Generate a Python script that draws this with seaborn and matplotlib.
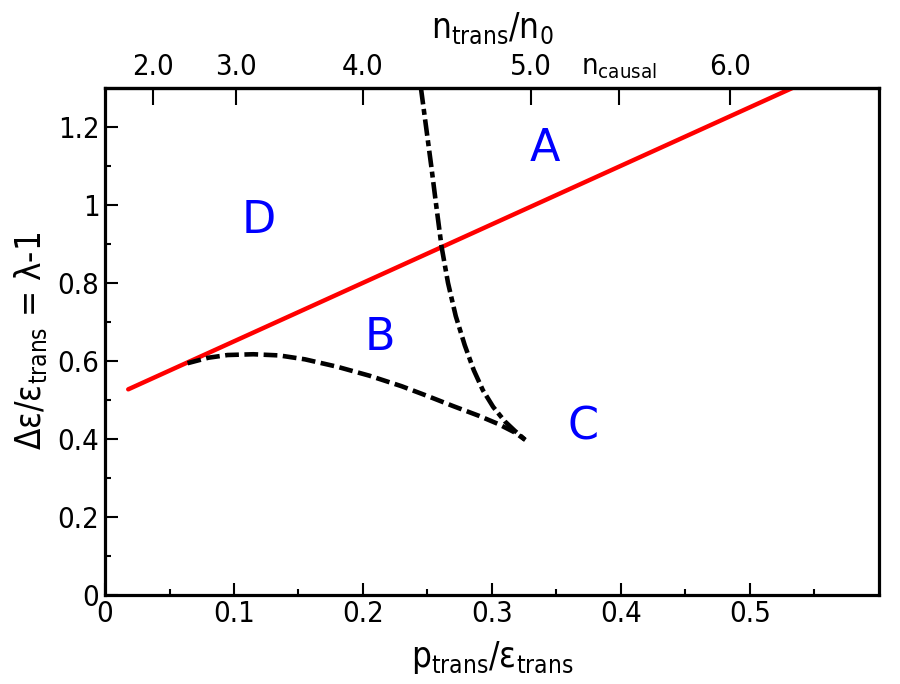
import matplotlib
matplotlib.use("Agg")
import matplotlib.pyplot as plt
import seaborn as sns
import pandas as pd

# ---- data ----
red_p = [0.018, 0.533]
red_y = [0.527, 1.30]

bc_p = [0.064, 0.080, 0.095, 0.115, 0.135, 0.155, 0.180, 0.205, 0.230, 0.250, 0.270, 0.290, 0.305, 0.318, 0.326]
bc_y = [0.594, 0.608, 0.615, 0.617, 0.614, 0.604, 0.585, 0.562, 0.535, 0.510, 0.484, 0.459, 0.438, 0.416, 0.397]

ac_p = [0.245, 0.249, 0.253, 0.257, 0.261, 0.266, 0.272, 0.279, 0.286, 0.293, 0.301, 0.310, 0.318, 0.326]
ac_y = [1.300, 1.200, 1.100, 0.995, 0.893, 0.800, 0.715, 0.640, 0.576, 0.525, 0.482, 0.445, 0.420, 0.397]

region_labels = ["A", "B", "C", "D"]
region_p = [0.341, 0.213, 0.371, 0.119]
region_y = [1.145, 0.660, 0.430, 0.960]

top_tick_pos = [0.0375, 0.1016, 0.200, 0.330, 0.3985, 0.485]
top_tick_labels = ["2.0", "3.0", "4.0", "5.0", r"n$_{\mathregular{causal}}$", "6.0"]

x_ticks = [0, 0.1, 0.2, 0.3, 0.4, 0.5]
x_tick_labels = ["0", "0.1", "0.2", "0.3", "0.4", "0.5"]
x_minor = [0.05, 0.15, 0.25, 0.35, 0.45, 0.55]
y_ticks = [0, 0.2, 0.4, 0.6, 0.8, 1.0, 1.2]
y_tick_labels = ["0", "0.2", "0.4", "0.6", "0.8", "1", "1.2"]
y_minor = [0.1, 0.3, 0.5, 0.7, 0.9, 1.1]

sns.set_theme(style="ticks")
plt.rcParams["font.family"] = ["DejaVu Sans"]
plt.rcParams["font.stretch"] = "condensed"
plt.rcParams["mathtext.default"] = "regular"
plt.rcParams["text.color"] = "black"
plt.rcParams["axes.labelcolor"] = "black"

fig = plt.figure(figsize=(9, 6.84), dpi=100)
ax = fig.add_axes([0.1167, 0.1305, 0.9763 - 0.1167, 0.8713 - 0.1305])

sns.lineplot(x=red_p, y=red_y, ax=ax, color="#ff0000", lw=3.2, sort=False)
sns.lineplot(x=bc_p, y=bc_y, ax=ax, color="black", lw=3.3, sort=False,
             linestyle=(0, (3.0, 1.2)))
sns.lineplot(x=ac_p, y=ac_y, ax=ax, color="black", lw=3.3, sort=False,
             linestyle=(0, (3.6, 1.0, 1.3, 1.0)))

for lab, px, py in zip(region_labels, region_p, region_y):
    ax.text(px, py, lab, color="#0000ff", fontsize=32, ha="center", va="center",
            fontstretch="normal")

ax.set_xlim(0, 0.6)
ax.set_ylim(0, 1.3)
ax.set_xticks(x_ticks)
ax.set_xticklabels(x_tick_labels)
ax.set_xticks(x_minor, minor=True)
ax.set_yticks(y_ticks)
ax.set_yticklabels(y_tick_labels)
ax.set_yticks(y_minor, minor=True)
ax.tick_params(axis="both", which="major", direction="in", length=9, width=1.5,
               labelsize=21, color="black", labelcolor="black", pad=4)
ax.tick_params(axis="both", which="minor", direction="in", length=4, width=1.5,
               color="black")
ax.tick_params(right=False, top=False, which="both")

for s in ax.spines.values():
    s.set_visible(True)
    s.set_linewidth(2.3)
    s.set_color("black")

ax.set_xlabel(r"p$_{\mathregular{trans}}$/ε$_{\mathregular{trans}}$", fontsize=25, labelpad=8, color="black")
ax.set_ylabel(r"Δε/ε$_{\mathregular{trans}}$ = λ-1", fontsize=25, labelpad=6, color="black")

sec = ax.secondary_xaxis("top")
sec.set_xticks(top_tick_pos)
sec.set_xticklabels(top_tick_labels)
sec.tick_params(direction="in", length=12, width=1.5, labelsize=21, pad=5,
                color="black", labelcolor="black")
sec.spines["top"].set_linewidth(2.3)
sec.set_xlabel(r"n$_{\mathregular{trans}}$/n$_{\mathregular{0}}$", fontsize=25, labelpad=11, color="black")

fig.savefig("out.png", dpi=100, facecolor="white")
